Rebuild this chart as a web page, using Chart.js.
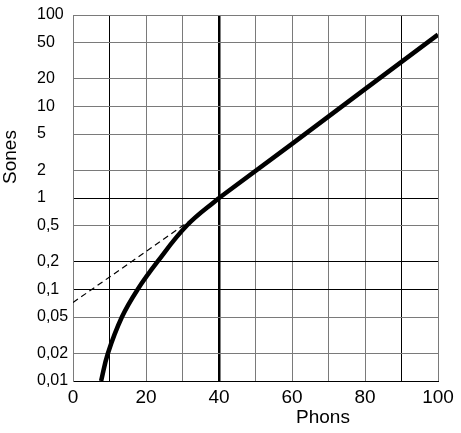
<!DOCTYPE html>
<html lang="es">
<head>
  <meta charset="UTF-8" />
  <title>Sones - Phons</title>
  <script src="https://cdn.jsdelivr.net/npm/chart.js"></script>
  <style>
    html, body { margin: 0; padding: 0; background: #fff; }
    #wrap { width: 461px; height: 433px; }
  </style>
</head>
<body>
  <div id="wrap"><canvas id="grafica" width="461" height="433"></canvas></div>

  <script>
    // ejes
    const yTicks = [0.01, 0.02, 0.05, 0.1, 0.2, 0.5, 1, 2, 5, 10, 20, 50, 100];
    const yTickLabels = ['0,01', '0,02', '0,05', '0,1', '0,2', '0,5', '1', '2', '5', '10', '20', '50', '100'];
    const xTicks = [0, 10, 20, 30, 40, 50, 60, 70, 80, 90, 100];
    const xTickLabels = ['0', '', '20', '', '40', '', '60', '', '80', '', '100'];

    const bajoPhons = [7.7, 9.55, 13.4, 17.7, 23.1, 31.2, 40];
    const bajoSones = [0.01, 0.02, 0.05, 0.1, 0.2, 0.5, 1];

    // recta sobre 40 phons
    const altoPhons = [40, 60, 80, 100];
    const altoSones = [1, 3.9, 15.5, 61];

    // prolongación discontinua
    const trazoPhons = [0, 33];
    const trazoSones = [0.072, 0.6];

    const pares = (xs, ys) => xs.map((x, i) => ({ x: x, y: ys[i] }));

    const fuente = '"Liberation Sans", Arial, Helvetica, sans-serif';

    // títulos de los ejes dibujados a mano
    const titulos = {
      id: 'titulos',
      afterDraw(chart) {
        const ctx = chart.ctx;
        ctx.save();
        ctx.fillStyle = '#000';
        ctx.font = '19px ' + fuente;
        ctx.textAlign = 'center';
        ctx.textBaseline = 'middle';
        ctx.fillText('Phons', 323, 418);
        ctx.translate(11, 157);
        ctx.rotate(-Math.PI / 2);
        ctx.fillText('Sones', 0, 0);
        ctx.restore();
      }
    };

    new Chart(document.getElementById('grafica').getContext('2d'), {
      type: 'line',
      data: {
        datasets: [
          {
            data: pares(bajoPhons, bajoSones),
            borderColor: '#000',
            borderWidth: 4.5,
            pointRadius: 0,
            tension: 0.4
          },
          {
            data: pares(altoPhons, altoSones),
            borderColor: '#000',
            borderWidth: 4.5,
            pointRadius: 0
          },
          {
            data: pares(trazoPhons, trazoSones),
            borderColor: '#000',
            borderWidth: 1.2,
            borderDash: [6, 4],
            pointRadius: 0
          }
        ]
      },
      options: {
        responsive: false,
        animation: false,
        layout: { padding: { left: 37, top: 15, right: 23, bottom: 0 } },
        plugins: {
          legend: { display: false },
          tooltip: { enabled: false }
        },
        scales: {
          x: {
            type: 'linear',
            min: 0,
            max: 100,
            afterBuildTicks: s => { s.ticks = xTicks.map(v => ({ value: v })); },
            afterFit: s => { s.height = 52; },
            ticks: {
              autoSkip: false,
              maxRotation: 0,
              padding: 5,
              color: '#000',
              font: { family: fuente, size: 19 },
              callback: (v, i) => xTickLabels[i]
            },
            grid: {
              drawTicks: false,
              color: c => (c.tick && [10, 40, 90].includes(c.tick.value)) ? '#000' : '#7a7a7a',
              lineWidth: c => (c.tick && c.tick.value === 40) ? 2.5 : 1
            },
            border: { color: '#000', width: 1 }
          },
          y: {
            type: 'logarithmic',
            min: 0.01,
            max: 100,
            afterBuildTicks: s => { s.ticks = yTicks.map(v => ({ value: v })); },
            afterFit: s => { s.width = 36; },
            ticks: {
              autoSkip: false,
              crossAlign: 'far',
              color: '#000',
              font: { family: fuente, size: 16 },
              callback: (v, i) => yTickLabels[i]
            },
            grid: {
              drawTicks: false,
              color: c => (c.tick && [0.01, 0.1, 0.2, 1].includes(c.tick.value)) ? '#000' : '#7a7a7a',
              lineWidth: 1
            },
            border: { color: '#7a7a7a', width: 1 }
          }
        }
      },
      plugins: [titulos]
    });
  </script>
</body>
</html>
